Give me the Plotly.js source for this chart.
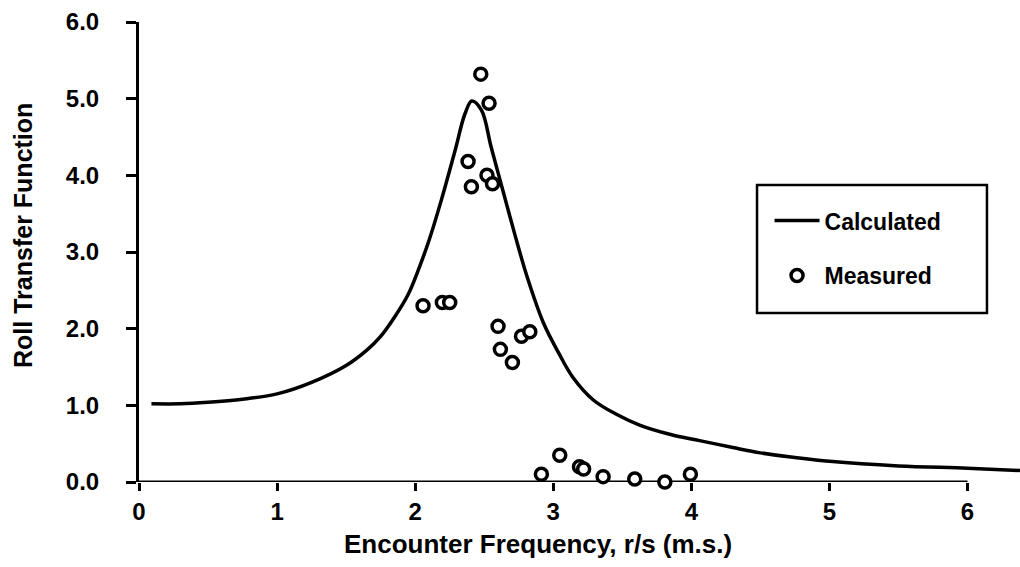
<!DOCTYPE html>
<html>
<head>
<meta charset="utf-8">
<script src="https://cdn.plot.ly/plotly-3.0.1.min.js"></script>
<style>html,body{margin:0;padding:0;background:#fff;}#chart{width:1020px;height:567px;}</style>
</head>
<body>
<div id="chart"></div>
<script>
// Calculated roll transfer function
const calcFreq = [0.09, 0.3, 0.5, 0.75, 1.0, 1.25, 1.5, 1.65, 1.75, 1.85, 1.95, 2.03, 2.1, 2.19, 2.29, 2.36, 2.41, 2.48, 2.55, 2.64, 2.72, 2.81, 2.93, 3.04, 3.14, 3.29, 3.45, 3.63, 3.85, 4.06, 4.3, 4.5, 4.75, 5.0, 5.5, 6.0, 6.38];
const calcRoll = [1.02, 1.02, 1.04, 1.08, 1.15, 1.30, 1.52, 1.72, 1.90, 2.15, 2.45, 2.80, 3.15, 3.68, 4.33, 4.80, 4.97, 4.85, 4.37, 3.77, 3.24, 2.68, 2.07, 1.68, 1.37, 1.07, 0.89, 0.74, 0.62, 0.54, 0.45, 0.38, 0.32, 0.27, 0.21, 0.18, 0.15];

// Measured points
const measFreq = [2.475, 2.535, 2.383, 2.407, 2.52, 2.56, 2.057, 2.197, 2.25, 2.6, 2.617, 2.704, 2.77, 2.83, 2.914, 3.047, 3.19, 3.22, 3.361, 3.59, 3.808, 3.993];
const measRoll = [5.32, 4.94, 4.18, 3.85, 4.0, 3.89, 2.30, 2.34, 2.34, 2.03, 1.73, 1.56, 1.90, 1.96, 0.10, 0.35, 0.20, 0.17, 0.07, 0.04, 0.00, 0.10];

const xTicks = [0, 1, 2, 3, 4, 5, 6];
const yTicks = [0, 1, 2, 3, 4, 5, 6];
const xTitle = 'Encounter Frequency, r/s (m.s.)';
const yTitle = 'Roll Transfer Function';
const seriesNames = ['Calculated', 'Measured'];

const FONT = 'Liberation Sans, Arial, Helvetica, sans-serif';

const traces = [
  {
    x: calcFreq, y: calcRoll, type: 'scatter', mode: 'lines',
    name: seriesNames[0], legendgroup: 'a',
    line: {color: '#000', width: 3.5, shape: 'spline', smoothing: 1}
  },
  {
    x: measFreq, y: measRoll, type: 'scatter', mode: 'markers',
    name: seriesNames[1], legendgroup: 'b', cliponaxis: false,
    marker: {symbol: 'circle', size: 12, color: '#fff', line: {color: '#000', width: 3.5}}
  }
];

const layout = {
  width: 1020, height: 567,
  margin: {l: 139, r: 0, t: 22, b: 85, autoexpand: false},
  paper_bgcolor: '#fff', plot_bgcolor: '#fff',
  font: {family: FONT, size: 24, color: '#000', weight: 'bold'},
  showlegend: true,
  legend: {
    x: 0.7157, y: 0.615, xanchor: 'left', yanchor: 'top',
    bgcolor: 'rgba(0,0,0,0)', borderwidth: 0,
    tracegroupgap: 22, itemwidth: 45,
    font: {family: FONT, size: 23, color: '#000', weight: 'bold'}
  },
  xaxis: {
    range: [0, 6.38], tickvals: xTicks, ticktext: xTicks.map(String),
    showgrid: false, zeroline: false, showline: false,
    ticks: 'outside', ticklen: 8, tickwidth: 3, tickcolor: '#000',
    ticklabelstandoff: 0,
    tickfont: {family: FONT, size: 24, color: '#000', weight: 'bold'}
  },
  yaxis: {
    range: [0, 6], tickvals: yTicks, ticktext: yTicks.map(v => v.toFixed(1)),
    showgrid: false, zeroline: false, showline: true, linewidth: 3, linecolor: '#000',
    ticks: 'outside', ticklen: 10, tickwidth: 3, tickcolor: '#000',
    ticklabelstandoff: 22,
    tickfont: {family: FONT, size: 24, color: '#000', weight: 'bold'}
  },
  shapes: [
    {type: 'line', xref: 'x', yref: 'y', x0: xTicks[0], x1: xTicks[xTicks.length - 1], y0: 0, y1: 0,
     line: {color: '#000', width: 3}, layer: 'below'},
    {type: 'rect', xref: 'paper', yref: 'paper', x0: 0.7015, x1: 0.9625, y0: 0.3674, y1: 0.6457,
     line: {color: '#000', width: 2.5}, fillcolor: 'rgba(0,0,0,0)', layer: 'above'}
  ],
  annotations: [
    {text: xTitle, xref: 'paper', yref: 'paper', x: 0.453, y: -0.135, xanchor: 'center', yanchor: 'middle',
     showarrow: false, font: {family: FONT, size: 26, color: '#000', weight: 'bold'}},
    {text: yTitle, xref: 'paper', yref: 'paper', x: -0.1317, y: 0.537, xanchor: 'center', yanchor: 'middle',
     textangle: -90, showarrow: false, font: {family: FONT, size: 25, color: '#000', weight: 'bold'}}
  ]
};

Plotly.newPlot('chart', traces, layout, {staticPlot: true, displayModeBar: false});
</script>
</body>
</html>
